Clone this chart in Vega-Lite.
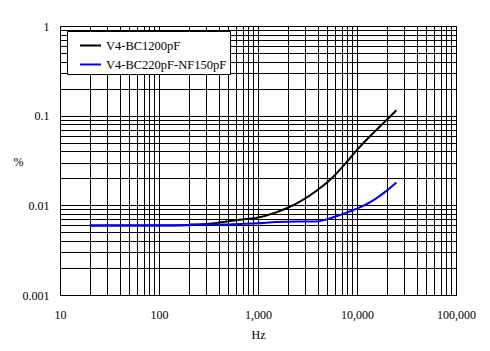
{
  "$schema": "https://vega.github.io/schema/vega-lite/v6.json",
  "width": 396,
  "height": 269,
  "autosize": {"type": "none"},
  "padding": {"left": 60, "top": 26, "right": 34, "bottom": 56},
  "background": "white",
  "config": {
    "font": "Liberation Serif",
    "view": {"stroke": "black", "strokeWidth": 1},
    "axis": {"labelFont": "Liberation Serif", "titleFont": "Liberation Serif", "labelColor": "black", "titleColor": "black", "labelFontSize": 12, "titleFontSize": 12, "titleFontWeight": "normal"}
  },
  "data": {
    "values": [
      {"series": "V4-BC1200pF", "hz": 20, "pct": 0.00594},
      {"series": "V4-BC1200pF", "hz": 100, "pct": 0.00595},
      {"series": "V4-BC1200pF", "hz": 200, "pct": 0.00605},
      {"series": "V4-BC1200pF", "hz": 300, "pct": 0.0062},
      {"series": "V4-BC1200pF", "hz": 400, "pct": 0.0064},
      {"series": "V4-BC1200pF", "hz": 650, "pct": 0.0069},
      {"series": "V4-BC1200pF", "hz": 1000, "pct": 0.0073},
      {"series": "V4-BC1200pF", "hz": 1500, "pct": 0.0083},
      {"series": "V4-BC1200pF", "hz": 2000, "pct": 0.0094},
      {"series": "V4-BC1200pF", "hz": 2650, "pct": 0.011},
      {"series": "V4-BC1200pF", "hz": 4000, "pct": 0.0148},
      {"series": "V4-BC1200pF", "hz": 5800, "pct": 0.021},
      {"series": "V4-BC1200pF", "hz": 8000, "pct": 0.031},
      {"series": "V4-BC1200pF", "hz": 10000, "pct": 0.0415},
      {"series": "V4-BC1200pF", "hz": 15000, "pct": 0.066},
      {"series": "V4-BC1200pF", "hz": 20000, "pct": 0.09},
      {"series": "V4-BC1200pF", "hz": 25000, "pct": 0.115},
      {"series": "V4-BC220pF-NF150pF", "hz": 20, "pct": 0.00594},
      {"series": "V4-BC220pF-NF150pF", "hz": 200, "pct": 0.00598},
      {"series": "V4-BC220pF-NF150pF", "hz": 210, "pct": 0.0061},
      {"series": "V4-BC220pF-NF150pF", "hz": 400, "pct": 0.0061},
      {"series": "V4-BC220pF-NF150pF", "hz": 650, "pct": 0.0062},
      {"series": "V4-BC220pF-NF150pF", "hz": 1000, "pct": 0.0063},
      {"series": "V4-BC220pF-NF150pF", "hz": 1500, "pct": 0.0065},
      {"series": "V4-BC220pF-NF150pF", "hz": 2600, "pct": 0.0066},
      {"series": "V4-BC220pF-NF150pF", "hz": 3900, "pct": 0.0066},
      {"series": "V4-BC220pF-NF150pF", "hz": 5000, "pct": 0.007},
      {"series": "V4-BC220pF-NF150pF", "hz": 6700, "pct": 0.0078},
      {"series": "V4-BC220pF-NF150pF", "hz": 10000, "pct": 0.0092},
      {"series": "V4-BC220pF-NF150pF", "hz": 15000, "pct": 0.0116},
      {"series": "V4-BC220pF-NF150pF", "hz": 20000, "pct": 0.0146},
      {"series": "V4-BC220pF-NF150pF", "hz": 25000, "pct": 0.018}
    ]
  },
  "mark": {"type": "line", "strokeWidth": 2, "interpolate": "monotone", "clip": true},
  "encoding": {
    "x": {
      "field": "hz", "type": "quantitative",
      "scale": {"type": "log", "domain": [10, 100000], "nice": false},
      "axis": {
        "title": "Hz", "titlePadding": 9,
        "values": [10,20,30,40,50,60,70,80,90,100,200,300,400,500,600,700,800,900,1000,2000,3000,4000,5000,6000,7000,8000,9000,10000,20000,30000,40000,50000,60000,70000,80000,90000,100000],
        "labelExpr": "abs(log(datum.value)/LN10 - round(log(datum.value)/LN10)) < 0.001 ? format(datum.value, ',') : ''",
        "ticks": false, "labelPadding": 14, "labelFlush": false, "labelOverlap": false,
        "grid": true, "gridColor": "black", "gridOpacity": 1, "gridWidth": 1,
        "domainColor": "black"
      }
    },
    "y": {
      "field": "pct", "type": "quantitative",
      "scale": {"type": "log", "domain": [0.001, 1], "nice": false},
      "axis": {
        "title": "%", "titleAngle": 0, "titleX": -42, "titleY": 135, "titleAlign": "center", "titleBaseline": "middle",
        "values": [0.001,0.002,0.003,0.004,0.005,0.006,0.007,0.008,0.009,0.01,0.02,0.03,0.04,0.05,0.06,0.07,0.08,0.09,0.1,0.2,0.3,0.4,0.5,0.6,0.7,0.8,0.9,1],
        "labelExpr": "abs(log(datum.value)/LN10 - round(log(datum.value)/LN10)) < 0.001 ? format(datum.value, '.3~f') : ''",
        "ticks": false, "labelPadding": 11, "labelFlush": false, "labelOverlap": false,
        "grid": true, "gridColor": "black", "gridOpacity": 1, "gridWidth": 1,
        "domainColor": "black"
      }
    },
    "color": {
      "field": "series", "type": "nominal",
      "scale": {"domain": ["V4-BC1200pF", "V4-BC220pF-NF150pF"], "range": ["black", "#0000FF"]},
      "legend": {
        "title": null, "orient": "none", "legendX": 7, "legendY": 5,
        "symbolType": "stroke", "symbolSize": 441, "symbolStrokeWidth": 2, "symbolOffset": 9,
        "labelFont": "Liberation Serif", "labelFontSize": 12.5, "labelColor": "black", "labelOffset": 4,
        "fillColor": "white", "strokeColor": "black", "padding": 3, "rowPadding": 1
      }
    }
  }
}
